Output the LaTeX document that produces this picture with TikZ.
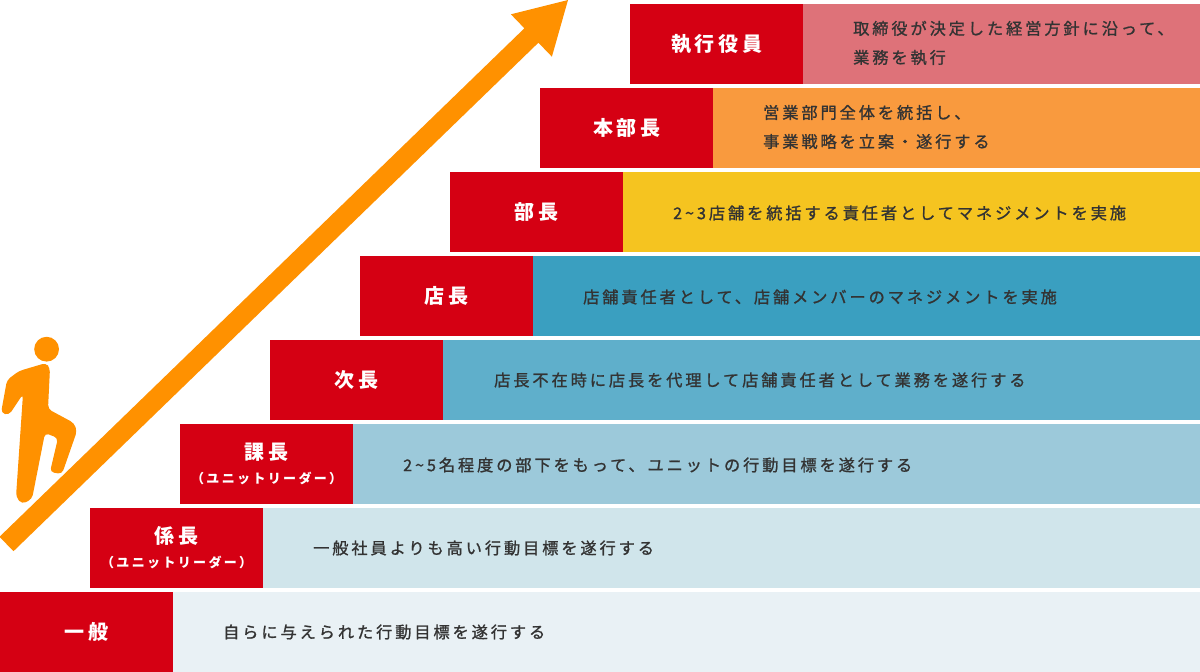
\documentclass[tikz,border=0pt]{standalone}
\usepackage{fontspec}
\newfontfamily\jp[LetterSpace=18]{Noto Sans CJK JP}
\newfontfamily\jpd[LetterSpace=18,FakeBold=1.2]{Noto Sans CJK JP}
\definecolor{redbg}{HTML}{D50013}
\definecolor{orng}{HTML}{FF9100}
\definecolor{txt}{HTML}{333333}
\definecolor{c0}{HTML}{E9F1F5}
\definecolor{c1}{HTML}{D0E5EB}
\definecolor{c2}{HTML}{9CC9DA}
\definecolor{c3}{HTML}{5FAFCB}
\definecolor{c4}{HTML}{3A9FC0}
\definecolor{c5}{HTML}{F5C420}
\definecolor{c6}{HTML}{F99A3E}
\definecolor{c7}{HTML}{DE7279}
\begin{document}
\begin{tikzpicture}[x=1pt,y=-1pt,
  redbox/.style={fill=redbg, inner sep=0pt, minimum width=173pt, minimum height=80pt, anchor=north west},
  barbox/.style={inner sep=0pt, minimum height=80pt, anchor=north west},
  lbl/.style={inner sep=0pt, text=white, font=\jp\bfseries\fontsize{20}{24}\selectfont},
  sublbl/.style={inner sep=0pt, text=white, font=\jp\bfseries\fontsize{13}{14}\selectfont},
  desc/.style={anchor=west, inner sep=0pt, text=txt, align=left, font=\jpd\fontsize{16.2}{29}\selectfont}]
\useasboundingbox (0,0) rectangle (1200,672);
\fill[white] (0,0) rectangle (1200,672);
% rows
\foreach \k/\c in {0/c0,1/c1,2/c2,3/c3,4/c4,5/c5,6/c6,7/c7}{
  \pgfmathsetmacro{\yy}{592-84*\k}
  \pgfmathsetmacro{\xx}{90*\k}
  \pgfmathsetmacro{\ww}{1200-\xx-173}
  \node[barbox, fill=\c, minimum width=\ww pt] (b\k) at (\xx+173,\yy) {};
  \node[redbox] (r\k) at (\xx,\yy) {};
}
% labels
\node[lbl] (l0) at (r0.center) {一般};
\node[lbl, yshift=12pt] (l1) at (r1.center) {係長};
\node[sublbl, yshift=-14pt] (s1) at (r1.center) {（ユニットリーダー）};
\node[lbl, yshift=12pt] (l2) at (r2.center) {課長};
\node[sublbl, yshift=-14pt] (s2) at (r2.center) {（ユニットリーダー）};
\node[lbl] (l3) at (r3.center) {次長};
\node[lbl] (l4) at (r4.center) {店長};
\node[lbl] (l5) at (r5.center) {部長};
\node[lbl] (l6) at (r6.center) {本部長};
\node[lbl] (l7) at (r7.center) {執行役員};
% descriptions
\node[desc] (d0) at (223,632) {自らに与えられた行動目標を遂行する};
\node[desc] (d1) at (313,548) {一般社員よりも高い行動目標を遂行する};
\node[desc] (d2) at (403,465) {2{\char"7E}5名程度の部下をもって、ユニットの行動目標を遂行する};
\node[desc] (d3) at (494,380) {店長不在時に店長を代理して店舗責任者として業務を遂行する};
\node[desc] (d4) at (583,297) {店舗責任者として、店舗メンバーのマネジメントを実施};
\node[desc] (d5) at (673,213) {2{\char"7E}3店舗を統括する責任者としてマネジメントを実施};
\node[desc] (d6) at (763,127) {営業部門全体を統括し、\\事業戦略を立案・遂行する};
\node[desc] (d7) at (853,43) {取締役が決定した経営方針に沿って、\\業務を執行};
% arrow
\fill[orng] (-0.5,536.8) -- (524.4,28.3) -- (510.9,14.3) -- (568,0) -- (551.9,56.7) -- (538.4,42.7) -- (13.5,551.2) -- cycle;
% person
\fill[orng] (46.6,349.2) circle (12.4);
\fill[orng, rounded corners=4pt] (19,371) -- (46,363) -- (50,368) -- (48,409) -- (74,423) -- (77,431) -- (62,474) -- (50,472) -- (58,438) -- (45,433) -- (32,499) -- (22,504) -- (16,497) -- (23,394) -- (9,415) -- (1,413) -- (7,380) -- cycle;
\end{tikzpicture}
\end{document}
